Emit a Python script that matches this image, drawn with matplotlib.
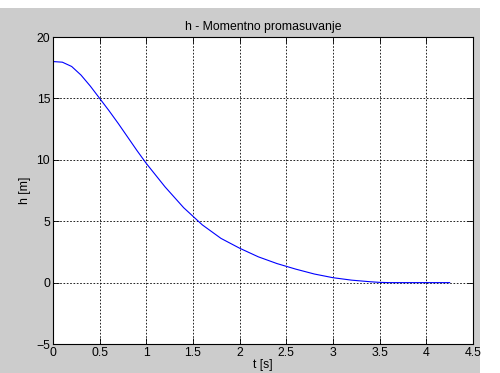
import matplotlib.pyplot as plt
from matplotlib.patches import Rectangle

# values
t = [0, 0.1, 0.2, 0.3, 0.4, 0.5, 0.6, 0.7, 0.8, 0.9, 1.0, 1.2, 1.4, 1.6, 1.8,
     2.0, 2.2, 2.4, 2.6, 2.8, 3.0, 3.2, 3.4, 3.5, 3.6, 4.0, 4.25]
h = [18.0, 17.95, 17.6, 16.9, 16.0, 15.0, 14.0, 12.95, 11.85, 10.75, 9.7, 7.8, 6.1, 4.7, 3.6,
     2.8, 2.1, 1.55, 1.1, 0.7, 0.4, 0.2, 0.07, 0.02, 0.0, 0.0, 0.0]
xticks = [0, 0.5, 1, 1.5, 2, 2.5, 3, 3.5, 4, 4.5]
yticks = [-5, 0, 5, 10, 15, 20]

plt.rcParams['font.family'] = ['Liberation Sans', 'DejaVu Sans']
fs = 8.8

fig = plt.figure(figsize=(5, 3.73), dpi=100, facecolor='white')
# gray MATLAB-style figure area, kept behind the axes
fig.patches.append(Rectangle((0, 0), 480 / 500, 1 - 8 / 373, transform=fig.transFigure,
                             facecolor='#cccccc', edgecolor='none', zorder=-10))

ax = fig.add_axes([0.106, 0.0777, 0.84, 0.8231])
ax.set_facecolor('white')
ax.plot(t, h, color='#0000ff', linewidth=0.8)

ax.set_xlim(0, 4.5)
ax.set_ylim(-5, 20)
ax.set_xticks(xticks)
ax.set_xticklabels([f'{v:g}' for v in xticks])
ax.set_yticks(yticks)
ax.grid(True, color='black', linestyle=(0, (2, 2)), linewidth=0.6)
ax.tick_params(direction='in', length=4, width=0.6, top=True, right=True, pad=2,
               labelsize=fs)
for s in ax.spines.values():
    s.set_linewidth(0.8)

ax.set_title('h - Momentno promasuvanje', fontsize=fs, pad=5)
ax.set_xlabel('t [s]', fontsize=fs, labelpad=0)
ax.set_ylabel('h [m]', fontsize=fs, labelpad=4)

fig.savefig('out.png', dpi=100, facecolor=fig.get_facecolor())
